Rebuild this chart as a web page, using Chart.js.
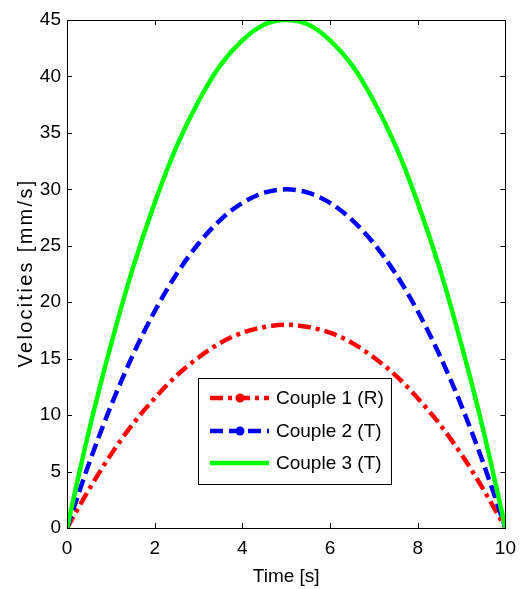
<!DOCTYPE html>
<html>
<head>
<meta charset="utf-8">
<script src="https://cdn.jsdelivr.net/npm/chart.js@4.4.1/dist/chart.umd.min.js"></script>
<style>
  html, body { margin: 0; padding: 0; background: #fff; }
  #wrap { width: 525px; height: 589px; position: relative; }
</style>
</head>
<body>
<div id="wrap"><canvas id="c" width="525" height="589"></canvas></div>
<script>
// ---- data ----
const time = [0, 0.5, 1, 1.5, 2, 2.5, 3, 3.5, 4, 4.5, 5, 5.5, 6, 6.5, 7, 7.5, 8, 8.5, 9, 9.5, 10];
const couple1 = [0, 3.4, 6.5, 9.2, 11.5, 13.5, 15.1, 16.4, 17.3, 17.8, 18, 17.8, 17.3, 16.4, 15.1, 13.5, 11.5, 9.2, 6.5, 3.4, 0];
const couple2 = [0, 5.7, 10.8, 15.3, 19.2, 22.5, 25.2, 27.3, 28.8, 29.7, 30, 29.7, 28.8, 27.3, 25.2, 22.5, 19.2, 15.3, 10.8, 5.7, 0];
const couple3 = [0, 8.6, 16.2, 23.0, 28.8, 33.8, 37.8, 41.0, 43.2, 44.6, 45, 44.6, 43.2, 41.0, 37.8, 33.8, 28.8, 23.0, 16.2, 8.6, 0];
const seriesNames = ['Couple 1 (R)', 'Couple 2 (T)', 'Couple 3 (T)'];
const xTicks = [0, 2, 4, 6, 8, 10];
const yTicks = [0, 5, 10, 15, 20, 25, 30, 35, 40, 45];
const xTitle = 'Time [s]';
const yTitle = 'Velocities [mm/s]';

const FONT = 'Liberation Sans, Arial, Helvetica, sans-serif';
const FS = 19;

function pts(vals) { return time.map((t, i) => ({ x: t, y: vals[i] })); }

const styles = [
  { color: '#ff0000', dash: [13, 5, 4, 5], marker: true },
  { color: '#0000ff', dash: [13, 6], marker: true },
  { color: '#00ff00', dash: [], marker: false }
];
const allVals = [couple1, couple2, couple3];

const datasets = allVals.map((v, i) => ({
  label: seriesNames[i],
  data: pts(v),
  borderColor: styles[i].color,
  backgroundColor: styles[i].color,
  borderWidth: 4.5,
  borderDash: styles[i].dash,
  pointRadius: 0,
  fill: false,
  cubicInterpolationMode: 'monotone',
  order: 3 - i
}));

const framePlugin = {
  id: 'frame',
  afterDatasetsDraw(chart) {
    const ctx = chart.ctx;
    // legend
    const lx = 198, ly = 378, lw = 193, lh = 106;
    ctx.save();
    ctx.fillStyle = '#fff';
    ctx.fillRect(lx, ly, lw, lh);
    ctx.strokeStyle = '#000';
    ctx.lineWidth = 1;
    ctx.strokeRect(lx + 0.5, ly + 0.5, lw, lh);
    const rows = [398, 431, 463];
    chart.data.datasets.forEach((ds, i) => {
      const y = rows[i];
      ctx.beginPath();
      ctx.setLineDash(styles[i].dash);
      ctx.lineDashOffset = 0;
      ctx.strokeStyle = styles[i].color;
      ctx.lineWidth = 4.5;
      ctx.moveTo(210, y);
      ctx.lineTo(269, y);
      ctx.stroke();
      ctx.setLineDash([]);
      if (styles[i].marker) {
        ctx.beginPath();
        ctx.fillStyle = styles[i].color;
        ctx.arc(240, y, 4.5, 0, Math.PI * 2);
        ctx.fill();
      }
      ctx.fillStyle = '#000';
      ctx.font = FS + 'px ' + FONT;
      ctx.textBaseline = 'middle';
      ctx.textAlign = 'left';
      ctx.fillText(ds.label, 276, y + 1);
    });
    ctx.restore();
  },
  afterDraw(chart) {
    const ctx = chart.ctx;
    const a = chart.chartArea;
    const xs = chart.scales.x, ys = chart.scales.y;
    ctx.save();
    ctx.strokeStyle = '#000';
    ctx.lineWidth = 1;
    ctx.setLineDash([]);
    ctx.strokeRect(Math.round(a.left) + 0.5, Math.round(a.top) + 0.5,
      Math.round(a.right - a.left), Math.round(a.bottom - a.top));
    ctx.beginPath();
    const tl = 5;
    xTicks.forEach(v => {
      const px = Math.round(xs.getPixelForValue(v)) + 0.5;
      ctx.moveTo(px, a.bottom); ctx.lineTo(px, a.bottom - tl);
      ctx.moveTo(px, a.top); ctx.lineTo(px, a.top + tl);
    });
    yTicks.forEach(v => {
      const py = Math.round(ys.getPixelForValue(v)) + 0.5;
      ctx.moveTo(a.left, py); ctx.lineTo(a.left + tl, py);
      ctx.moveTo(a.right, py); ctx.lineTo(a.right - tl, py);
    });
    ctx.stroke();
    // y axis title (wide spacing as in reference)
    ctx.translate(26, (a.top + a.bottom) / 2);
    ctx.rotate(-Math.PI / 2);
    ctx.fillStyle = '#000';
    ctx.font = '20px ' + FONT;
    if ('letterSpacing' in ctx) ctx.letterSpacing = '2.3px';
    ctx.textAlign = 'center';
    ctx.textBaseline = 'middle';
    ctx.fillText(yTitle, 1, 0);
    ctx.restore();
  }
};

new Chart(document.getElementById('c'), {
  type: 'line',
  data: { datasets },
  options: {
    responsive: false,
    animation: false,
    devicePixelRatio: 1,
    layout: { padding: { top: 20, right: 12, left: 0, bottom: 0 } },
    plugins: { legend: { display: false }, tooltip: { enabled: false } },
    scales: {
      x: {
        type: 'linear', min: 0, max: 10,
        afterFit(s) { s.height = 61; },
        afterBuildTicks(s) { s.ticks = xTicks.map(v => ({ value: v })); },
        grid: { display: false, drawTicks: false },
        border: { display: false },
        ticks: { color: '#000', font: { family: FONT, size: FS }, padding: 9, maxRotation: 0 },
        title: { display: true, text: xTitle, color: '#000', font: { family: FONT, size: FS }, padding: { top: 0, bottom: 1 } }
      },
      y: {
        type: 'linear', min: 0, max: 45,
        afterFit(s) { s.width = 67; },
        afterBuildTicks(s) { s.ticks = yTicks.map(v => ({ value: v })); },
        grid: { display: false, drawTicks: false },
        border: { display: false },
        ticks: { color: '#000', font: { family: FONT, size: FS }, padding: 6 },
        title: { display: false }
      }
    }
  },
  plugins: [framePlugin]
});
</script>
</body>
</html>
